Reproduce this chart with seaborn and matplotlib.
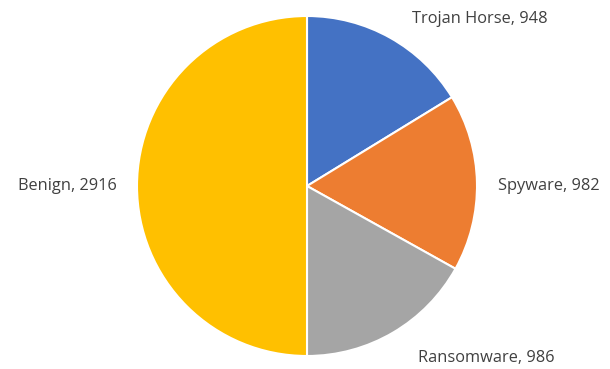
import matplotlib
matplotlib.use("Agg")
import matplotlib.pyplot as plt
import seaborn as sns

categories = ["Trojan Horse", "Spyware", "Ransomware", "Benign"]
values = [948, 982, 986, 2916]
colors = ["#4472C4", "#ED7D31", "#A5A5A5", "#FFC000"]

sns.set_theme(style="white")
plt.rcParams['font.family'] = ['Open Sans', 'DejaVu Sans']

fig = plt.figure(figsize=(6.10, 3.69), dpi=100)
ax = fig.add_axes([0, 0, 1, 1])

cx, cy, r = 307, 369 - 186, 170
ax.pie(values, colors=colors, startangle=90, counterclock=False,
       center=(cx, cy), radius=r, frame=True,
       wedgeprops=dict(edgecolor="white", linewidth=1.5))
ax.set_xlim(0, 610)
ax.set_ylim(0, 369)
ax.set_aspect("auto")
ax.set_axis_off()

label_pos = [(412, 369 - 19, "left"), (498, 369 - 186, "left"),
             (418, 369 - 358, "left"), (117, 369 - 186, "right")]
for (x, y, ha), c, v in zip(label_pos, categories, values):
    ax.text(x, y, f"{c}, {v}", ha=ha, va="center", fontsize=11.8, color="#404040")

fig.savefig("out.png", dpi=100, facecolor="white")
